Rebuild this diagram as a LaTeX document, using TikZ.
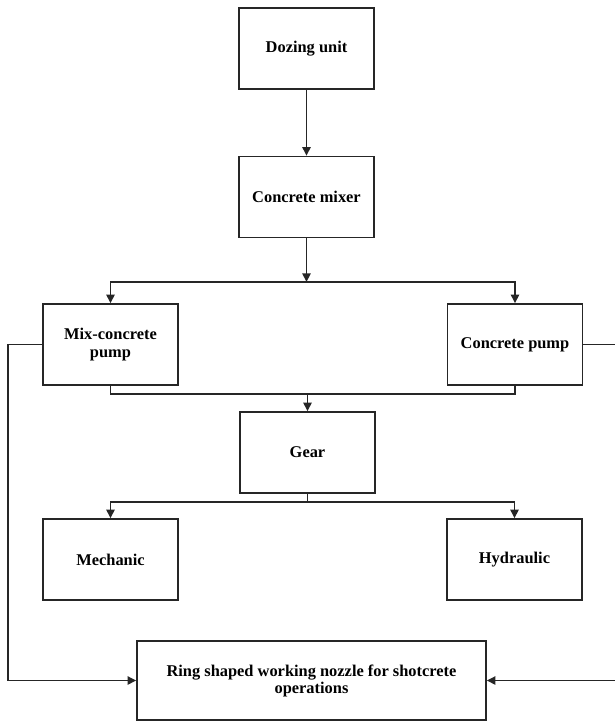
\documentclass[tikz,border=0pt]{standalone}
\usepackage{fontspec}
\setmainfont{Liberation Serif}
\usetikzlibrary{arrows.meta,positioning}
\tikzset{
  blockbox/.style={draw=black!85,line width=1.3pt,minimum width=4.05cm,minimum height=2.43cm,
    align=center,inner sep=2pt,font=\fontsize{14}{15}\selectfont\bfseries,fill=white},
  widebox/.style={blockbox,minimum width=10.47cm,minimum height=2.37cm,
    font=\fontsize{14}{14.5}\selectfont\bfseries},
  flow/.style={-{Triangle[length=2.6mm,width=2.5mm]},line width=1.2pt,draw=black!85},
  plain/.style={line width=1.2pt,draw=black!85}
}
\begin{document}
\begin{tikzpicture}[x=0.03cm,y=-0.03cm]
  \useasboundingbox (0,0) rectangle (615,722);
  \node[blockbox] (doz) at (306.5,48.5) {Dozing unit};
  \node[blockbox] (mixer) at (306.5,197) {Concrete mixer};
  \node[blockbox] (mixpump) at (110.5,344.5) {Mix-concrete\\pump};
  \node[blockbox] (pump) at (515,344.5) {Concrete pump};
  \node[blockbox] (gear) at (307.5,452.5) {Gear};
  \node[blockbox] (mech) at (110.5,559.5) {Mechanic};
  \node[blockbox] (hyd) at (514.5,559.5) {Hydraulic};
  \node[widebox] (nozzle) at (311.5,680.5) {Ring shaped working nozzle for shotcrete\\operations};

  \coordinate (split1) at (306.5,282);
  \coordinate (join) at (307.5,394);
  \coordinate (split2) at (307.5,502);
  \coordinate (leftbus) at (8,0);
  \coordinate (rightbus) at (619,0);

  \draw[flow] (doz) -- (mixer);
  \draw[flow] (mixer) -- (split1);
  \draw[flow] (split1) -| (mixpump);
  \draw[flow] (split1) -| (pump);
  \draw[plain] (mixpump.south) |- (join) -| (pump.south);
  \draw[flow] (join) -- (gear);
  \draw[plain] (gear) -- (split2);
  \draw[flow] (split2) -| (mech);
  \draw[flow] (split2) -| (hyd);
  \draw[flow] (mixpump.west) -| (leftbus |- nozzle.west) -- (nozzle.west);
  \draw[flow] (pump.east) -| (rightbus |- nozzle.east) -- (nozzle.east);
\end{tikzpicture}
\end{document}
